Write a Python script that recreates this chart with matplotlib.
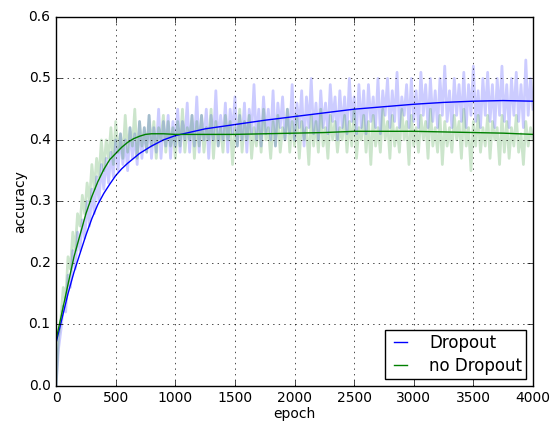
import numpy as np
import matplotlib
matplotlib.use('Agg')
import matplotlib.pyplot as plt

plt.style.use('classic')

# raw accuracy, read every 20 epochs
epochs = np.arange(0, 4001, 20)

acc_dropout = [
    0.00, 0.06, 0.09, 0.13, 0.12, 0.18, 0.16, 0.22, 0.19, 0.25,
    0.22, 0.27, 0.24, 0.30, 0.26, 0.32, 0.28, 0.34, 0.30, 0.36,
    0.32, 0.37, 0.33, 0.38, 0.34, 0.40, 0.35, 0.41, 0.36, 0.40,
    0.35, 0.42, 0.37, 0.41, 0.36, 0.43, 0.37, 0.42, 0.38, 0.44,
    0.37, 0.42, 0.38, 0.45, 0.37, 0.43, 0.39, 0.44, 0.37, 0.43,
    0.39, 0.45, 0.38, 0.43, 0.40, 0.46, 0.38, 0.44, 0.39, 0.47,
    0.38, 0.44, 0.40, 0.45, 0.37, 0.44, 0.40, 0.48, 0.39, 0.44,
    0.40, 0.46, 0.38, 0.45, 0.41, 0.47, 0.39, 0.44, 0.40, 0.46,
    0.38, 0.45, 0.41, 0.49, 0.40, 0.45, 0.39, 0.47, 0.41, 0.45,
    0.40, 0.48, 0.39, 0.46, 0.42, 0.47, 0.40, 0.45, 0.41, 0.49,
    0.40, 0.46, 0.42, 0.48, 0.39, 0.47, 0.42, 0.50, 0.41, 0.46,
    0.40, 0.48, 0.42, 0.46, 0.41, 0.49, 0.43, 0.47, 0.40, 0.48,
    0.42, 0.47, 0.41, 0.50, 0.43, 0.47, 0.41, 0.49, 0.42, 0.48,
    0.41, 0.49, 0.43, 0.47, 0.42, 0.50, 0.41, 0.48, 0.44, 0.50,
    0.42, 0.48, 0.43, 0.51, 0.42, 0.47, 0.44, 0.49, 0.42, 0.50,
    0.43, 0.48, 0.42, 0.51, 0.44, 0.49, 0.42, 0.50, 0.43, 0.48,
    0.42, 0.50, 0.44, 0.52, 0.43, 0.48, 0.42, 0.50, 0.44, 0.49,
    0.43, 0.51, 0.42, 0.49, 0.44, 0.52, 0.43, 0.48, 0.42, 0.50,
    0.44, 0.51, 0.43, 0.49, 0.42, 0.50, 0.44, 0.52, 0.43, 0.49,
    0.42, 0.50, 0.44, 0.51, 0.43, 0.49, 0.42, 0.53, 0.44, 0.50,
    0.45,
]

acc_nodrop = [
    0.00, 0.08, 0.11, 0.16, 0.14, 0.21, 0.19, 0.25, 0.22, 0.28,
    0.26, 0.31, 0.28, 0.33, 0.30, 0.36, 0.32, 0.37, 0.34, 0.40,
    0.35, 0.40, 0.37, 0.42, 0.36, 0.43, 0.38, 0.41, 0.37, 0.44,
    0.38, 0.42, 0.39, 0.45, 0.37, 0.43, 0.39, 0.42, 0.38, 0.44,
    0.39, 0.43, 0.37, 0.42, 0.40, 0.44, 0.38, 0.43, 0.39, 0.42,
    0.37, 0.43, 0.39, 0.45, 0.38, 0.42, 0.40, 0.44, 0.37, 0.43,
    0.39, 0.44, 0.38, 0.42, 0.40, 0.45, 0.37, 0.43, 0.39, 0.42,
    0.38, 0.44, 0.40, 0.43, 0.36, 0.42, 0.39, 0.45, 0.38, 0.43,
    0.40, 0.44, 0.37, 0.42, 0.39, 0.43, 0.38, 0.45, 0.40, 0.42,
    0.37, 0.43, 0.39, 0.44, 0.38, 0.42, 0.40, 0.45, 0.38, 0.43,
    0.39, 0.44, 0.37, 0.43, 0.40, 0.42, 0.36, 0.44, 0.39, 0.43,
    0.38, 0.45, 0.39, 0.42, 0.37, 0.44, 0.40, 0.43, 0.38, 0.42,
    0.40, 0.44, 0.38, 0.43, 0.39, 0.45, 0.37, 0.42, 0.40, 0.44,
    0.38, 0.43, 0.36, 0.44, 0.39, 0.42, 0.38, 0.45, 0.40, 0.43,
    0.37, 0.44, 0.39, 0.42, 0.38, 0.45, 0.40, 0.43, 0.36, 0.44,
    0.39, 0.42, 0.38, 0.44, 0.40, 0.43, 0.37, 0.45, 0.39, 0.42,
    0.38, 0.44, 0.36, 0.43, 0.39, 0.42, 0.38, 0.44, 0.40, 0.43,
    0.37, 0.45, 0.39, 0.42, 0.35, 0.43, 0.39, 0.44, 0.38, 0.42,
    0.39, 0.44, 0.37, 0.43, 0.40, 0.42, 0.36, 0.44, 0.38, 0.43,
    0.37, 0.42, 0.39, 0.44, 0.38, 0.41, 0.36, 0.43, 0.39, 0.42,
    0.40,
]

# smoothed curves, read at knots
smooth_x = [0, 50, 100, 150, 200, 250, 300, 350, 400, 450, 500, 550, 600,
            650, 700, 750, 800, 900, 1000, 1250, 1500, 1750, 2000, 2250,
            2500, 2750, 3000, 3250, 3500, 3750, 4000]
smooth_dropout = [0.070, 0.110, 0.150, 0.185, 0.215, 0.245, 0.272, 0.295,
                  0.313, 0.328, 0.342, 0.353, 0.362, 0.370, 0.378, 0.384,
                  0.390, 0.400, 0.407, 0.418, 0.425, 0.432, 0.438, 0.444,
                  0.450, 0.454, 0.458, 0.461, 0.463, 0.464, 0.463]
smooth_nodrop = [0.075, 0.120, 0.165, 0.210, 0.245, 0.280, 0.308, 0.332,
                 0.352, 0.368, 0.378, 0.388, 0.396, 0.402, 0.406, 0.409,
                 0.410, 0.410, 0.409, 0.409, 0.409, 0.410, 0.411, 0.412,
                 0.414, 0.414, 0.414, 0.413, 0.412, 0.411, 0.409]

fig = plt.figure(figsize=(5.5, 4.24), dpi=100)
ax = fig.add_axes([0.102, 0.09, 0.867, 0.87])

ax.plot(epochs, acc_dropout, color='b', alpha=0.2, lw=2)
ax.plot(epochs, acc_nodrop, color='g', alpha=0.2, lw=2)
ax.plot(smooth_x, smooth_dropout, color='b', lw=1, label='Dropout')
ax.plot(smooth_x, smooth_nodrop, color='g', lw=1, label='no Dropout')

ax.set_xlim(0, 4000)
ax.set_ylim(0, 0.6)
ax.grid(True)
ax.tick_params(labelsize=10)
ax.set_xlabel('epoch', fontsize=10, labelpad=1)
ax.set_ylabel('accuracy', fontsize=10, labelpad=1)
ax.legend(loc='lower right', fontsize=12, handlelength=1.4, handletextpad=1.0,
          borderpad=0.25, labelspacing=0.3, borderaxespad=0.4)

fig.savefig('out.png', dpi=100)
